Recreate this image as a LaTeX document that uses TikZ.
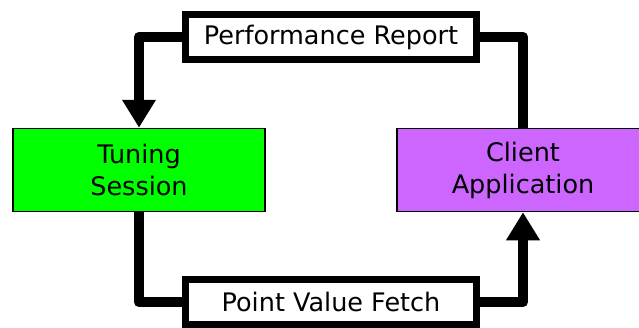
\documentclass[tikz,border=0pt]{standalone}
\usepackage{fontspec}
\setmainfont{DejaVu Sans}
\usetikzlibrary{arrows.meta,backgrounds}

\definecolor{sessiongreen}{RGB}{0,255,0}
\definecolor{clientpurple}{RGB}{204,102,255}

\tikzset{
    block/.style={draw, line width=1.5pt, minimum width=252pt, minimum height=83pt,
        inner sep=0pt, align=center, font=\fontsize{25.5}{32}\selectfont},
    msgbox/.style={draw, fill=white, line width=7pt, minimum width=291pt, minimum height=45pt,
        inner sep=0pt, font=\fontsize{25.5}{32}\selectfont},
    flow/.style={line width=10.5pt, line join=round, -{Triangle[width=32pt,length=28pt]}}
}

\begin{document}
\begin{tikzpicture}[x=1pt, y=-1pt]
        \clip (0,0) rectangle (639,327);

        % The two parties
        \node[block, fill=sessiongreen] (session) at (139,170) {Tuning\\Session};
        \node[block, fill=clientpurple] (client) at (523,170) {Client\\Application};

        % Messages passed between them
        \node[msgbox] (report) at (331,37) {Performance Report};
        \node[msgbox] (fetch) at (331,302) {Point Value Fetch};

        % Draw the loop behind the message boxes
        \begin{scope}[on background layer]
            \draw[flow] (client.north) |- (report.center) -| (session.north);
            \draw[flow] (session.south) |- (fetch.center) -| (client.south);
        \end{scope}
    \end{tikzpicture}
\end{document}
